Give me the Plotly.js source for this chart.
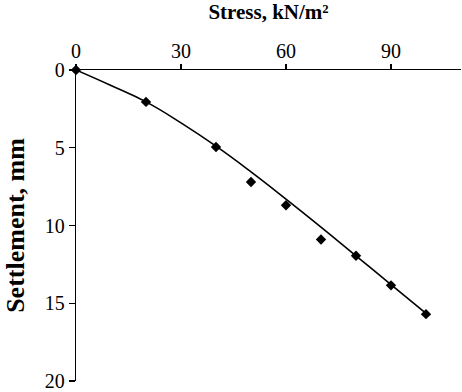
<!DOCTYPE html>
<html>
<head>
<meta charset="utf-8">
<script src="https://cdn.plot.ly/plotly-3.0.1.min.js"></script>
<style>
  html, body { margin: 0; padding: 0; background: #fff; }
  #chart { width: 462px; height: 392px; }
</style>
</head>
<body>
<div id="chart"></div>
<script>
// Measured load–settlement readings
const stress = [0, 20, 40, 50, 60, 70, 80, 90, 100];
const settlement = [0, 2.05, 4.95, 7.2, 8.7, 10.9, 11.95, 13.85, 15.7];

// Fitted trend curve through the readings
const trendStress = [0, 10, 20, 30, 40, 50, 60, 70, 80, 90, 100];
const trendSettlement = [0, 1.0, 2.05, 3.4, 4.9, 6.55, 8.3, 10.1, 11.95, 13.8, 15.65];

const xTicks = [0, 30, 60, 90];
const yTicks = [0, 5, 10, 15, 20];

const serif = 'Liberation Serif, Times New Roman, serif';

const traces = [
  {
    x: trendStress,
    y: trendSettlement,
    mode: 'lines',
    line: { color: '#000', width: 1.6, shape: 'spline', smoothing: 1.3 },
    hoverinfo: 'skip',
    cliponaxis: false
  },
  {
    x: stress,
    y: settlement,
    mode: 'markers',
    marker: { symbol: 'diamond', size: 8, color: '#000' },
    cliponaxis: false
  }
];

const layout = {
  width: 462,
  height: 392,
  margin: { l: 76, r: 1, t: 70, b: 11 },
  paper_bgcolor: '#fff',
  plot_bgcolor: '#fff',
  showlegend: false,
  font: { family: serif, color: '#000', size: 20 },
  xaxis: {
    side: 'top',
    range: [0, 110],
    tickvals: xTicks,
    ticktext: xTicks.map(String),
    ticks: 'outside',
    ticklen: 5,
    tickwidth: 1.3,
    tickcolor: '#000',
    ticklabelstandoff: -2,
    showline: true,
    linecolor: '#000',
    linewidth: 1.3,
    showgrid: false,
    zeroline: false,
    tickfont: { family: serif, size: 20 },
    title: { text: '<b>Stress, kN/m²</b>', font: { family: serif, size: 21 }, standoff: 14 }
  },
  yaxis: {
    range: [20, 0],
    tickvals: yTicks,
    ticktext: yTicks.map(String),
    ticks: 'outside',
    ticklen: 6,
    tickwidth: 1.3,
    tickcolor: '#000',
    showline: true,
    linecolor: '#000',
    linewidth: 1.3,
    showgrid: false,
    zeroline: false,
    tickfont: { family: serif, size: 20 },
    title: { text: '<b>Settlement, mm</b>', font: { family: serif, size: 26 }, standoff: 12 }
  }
};

Plotly.newPlot('chart', traces, layout, { displayModeBar: false, staticPlot: true });
</script>
</body>
</html>
